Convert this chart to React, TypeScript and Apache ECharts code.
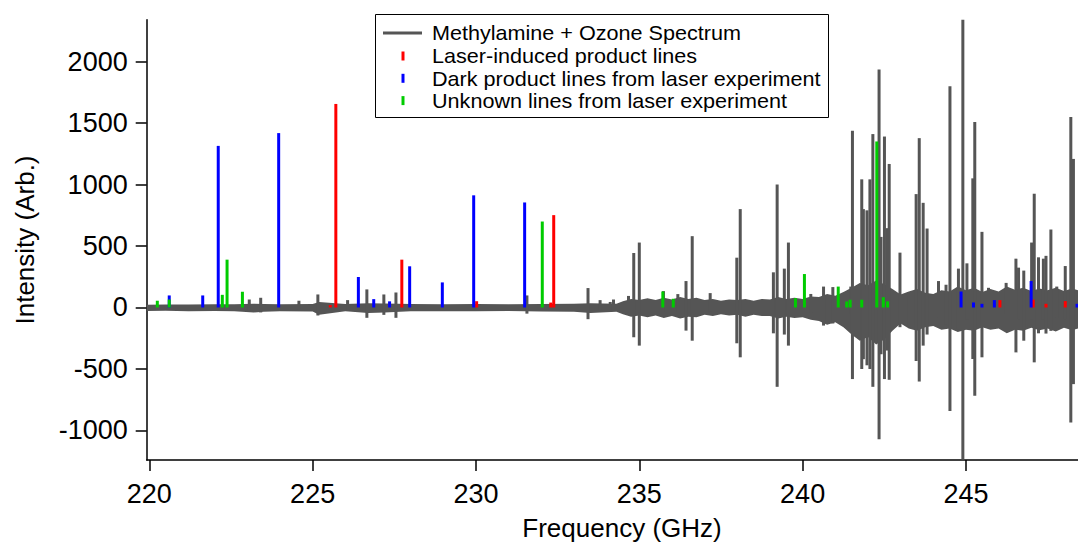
import React, { useEffect, useRef } from "react";
import * as echarts from "echarts";

const xTicks = [220, 225, 230, 235, 240, 245];
const yTicks = [-1000, -500, 0, 500, 1000, 1500, 2000];

// Gray spectrum: strong lines (frequency, positive lobe, negative lobe)
const peakFreq = [223.06, 223.41, 224.58, 225.16, 226.07, 226.66, 227.18, 227.55, 231.56, 233.43, 233.8, 234.11, 234.21, 234.67, 234.83, 235.0, 235.74, 236.18, 236.43, 236.62, 237.17, 237.985, 238.09, 239.105, 239.22, 239.44, 239.565, 240.25, 240.64, 240.925, 241.475, 241.525, 241.81, 241.86, 241.97, 242.06, 242.15, 242.34, 242.4, 242.505, 242.58, 242.65, 242.98, 243.27, 243.475, 243.57, 243.69, 243.81, 244.16, 244.39, 244.51, 244.77, 244.905, 245.03, 245.21, 245.27, 245.49, 245.69, 246.23, 246.53, 246.61, 246.77, 247.01, 247.09, 247.22, 247.37, 247.45, 247.6, 247.78, 248.04, 248.21, 248.29];
const peakMax = [65, 79, 55, 106, 60, 147, 106, 122, 98, 158, 60, 45, 65, 94, 443, 528, 133, 109, 215, 580, 117, 405, 800, 286, 1000, 316, 528, 110, 170, 166, 170, 1437, 1042, 800, 790, 1042, 1410, 1935, 574, 1390, 645, 1167, 446, 95, 922, 1377, 851, 642, 215, 185, 1798, 316, 2340, 359, 1050, 1508, 615, 160, 200, 397, 324, 300, 528, 925, 408, 397, 420, 634, 170, 337, 1548, 1208];
const peakMin = [-30, -40, -20, -65, -25, -84, -60, -84, -50, -95, -20, -20, -25, -40, -242, -310, -40, -40, -188, -270, -30, -291, -405, -210, -645, -220, -310, -40, -147, -130, -60, -582, -500, -420, -470, -500, -645, -1072, -380, -582, -350, -588, -160, -160, -435, -602, -310, -220, -80, -140, -841, -180, -1235, -100, -419, -718, -405, -80, -60, -365, -100, -270, -100, -446, -210, -100, -212, -190, -80, -100, -936, -623];

// Gray spectrum: noise envelope
const noiseFreq = [219.92, 220.5, 221.2, 222.0, 222.6, 223.2, 223.5, 224.0, 225.0, 225.2, 226.0, 226.7, 227.2, 228.0, 229.0, 230.0, 231.0, 232.0, 233.0, 233.5, 234.3,
  234.5, 234.75, 235.0, 235.25, 235.5, 235.75, 236.0, 236.25, 236.5, 236.75, 237.0, 237.25, 237.5, 237.75, 238.0, 238.25, 238.5, 238.75, 239.0, 239.25, 239.5, 239.75,
  240.0, 240.25, 240.5, 240.75, 241.0, 241.25, 241.5, 241.75, 242.0, 242.25, 242.5, 242.75, 243.0, 243.25, 243.5, 243.75, 244.0, 244.25, 244.5, 244.75,
  245.0, 245.25, 245.5, 245.75, 246.0, 246.25, 246.5, 246.75, 247.0, 247.25, 247.5, 247.75, 248.0, 248.25, 248.43];
const noiseHigh = [22, 25, 24, 27, 26, 30, 28, 26, 28, 45, 28, 35, 32, 28, 26, 28, 26, 28, 30, 35, 30,
  50, 70, 60, 75, 60, 80, 65, 85, 70, 80, 60, 70, 55, 65, 60, 70, 55, 70, 65, 85, 70, 80,
  70, 90, 85, 110, 95, 125, 160, 200, 180, 220, 190, 150, 105, 130, 150, 120, 110, 140, 130, 170,
  140, 160, 125, 150, 130, 170, 145, 160, 135, 155, 140, 160, 135, 155, 140];
const noiseLow = [-28, -26, -30, -28, -30, -40, -35, -30, -32, -60, -30, -45, -40, -30, -30, -30, -28, -32, -35, -45, -35,
  -55, -75, -65, -80, -65, -85, -70, -90, -75, -80, -60, -70, -55, -65, -60, -75, -60, -70, -70, -90, -75, -85,
  -80, -100, -110, -140, -120, -160, -220, -270, -240, -300, -260, -190, -130, -170, -190, -160, -150, -180, -170, -200,
  -180, -190, -160, -180, -170, -210, -180, -190, -165, -185, -170, -195, -165, -185, -170];

// Stick lines from laser experiment
const laserFreq = [225.54, 225.71, 227.73, 230.02, 232.29, 232.38, 246.04, 247.06, 247.45, 248.04];
const laserInt = [20, 1655, 389, 51, 40, 751, 60, 64, 30, 52];
const darkFreq = [220.61, 221.635, 222.11, 223.96, 226.4, 226.87, 227.355, 227.97, 228.97, 229.93, 231.49, 244.85, 245.23, 245.49, 245.87, 246.995, 248.4];
const darkInt = [98, 98, 1314, 1418, 248, 68, 50, 335, 204, 912, 854, 130, 41, 30, 60, 215, 30];
const unknownFreq = [220.245, 220.61, 222.235, 222.38, 222.85, 232.03, 235.72, 236.04, 239.78, 240.055, 241.09, 241.35, 241.455, 241.81, 242.27, 242.47, 242.6];
const unknownInt = [55, 65, 103, 389, 128, 699, 130, 71, 76, 272, 170, 49, 63, 63, 1350, 84, 50];

const legendNames = [
  "Methylamine + Ozone Spectrum",
  "Laser-induced product lines",
  "Dark product lines from laser experiment",
  "Unknown lines from laser experiment",
];

const FONT = "Liberation Sans, Arial, sans-serif";
const GRAY = "#555555";

function stickSeries(name: string, freqs: number[], ints: number[], color: string) {
  return {
    type: "custom",
    name,
    encode: { x: 0, y: 1 },
    data: freqs.map((f, i) => [f, ints[i]]),
    renderItem: (_p: any, api: any) => {
      const top = api.coord([api.value(0), api.value(1)]);
      const bot = api.coord([api.value(0), 0]);
      return {
        type: "rect",
        shape: { x: top[0] - 1.5, y: top[1], width: 3, height: bot[1] - top[1] },
        style: { fill: color },
      };
    },
  };
}

export default function App() {
  const ref = useRef<HTMLDivElement>(null);
  useEffect(() => {
    document.body.style.margin = "0";
    const chart = echarts.init(ref.current!, null, { renderer: "svg" });
    const legendRows = [32.7, 56, 78.3, 100.6];
    const option: any = {
      animation: false,
      backgroundColor: "#fff",
      grid: { left: 146.7, right: 0, top: 19.7, bottom: 82 },
      xAxis: {
        type: "value",
        min: 219.92,
        max: 248.43,
        splitLine: { show: false },
        axisLine: { show: true, onZero: false, lineStyle: { color: "#000", width: 1.5 } },
        axisTick: { show: true, length: 11, lineStyle: { color: "#000", width: 1.5 }, customValues: xTicks },
        axisLabel: {
          customValues: xTicks,
          formatter: (v: number) => String(v),
          color: "#000",
          fontSize: 27,
          fontFamily: FONT,
          margin: 20,
        },
      },
      yAxis: {
        type: "value",
        min: -1240,
        max: 2340,
        splitLine: { show: false },
        axisLine: { show: true, onZero: false, lineStyle: { color: "#000", width: 1.5 } },
        axisTick: { show: true, length: 11, lineStyle: { color: "#000", width: 1.5 }, customValues: yTicks },
        axisLabel: {
          customValues: yTicks,
          formatter: (v: number) => String(v),
          color: "#000",
          fontSize: 27,
          fontFamily: FONT,
          margin: 19,
        },
      },
      series: [
        {
          type: "custom",
          name: "noise",
          encode: { x: 0, y: 1 },
          data: [[noiseFreq[0], 0]],
          renderItem: (_p: any, api: any) => {
            const up = noiseFreq.map((f, i) => api.coord([f, noiseHigh[i]]));
            const lo = noiseFreq.map((f, i) => api.coord([f, noiseLow[i]])).reverse();
            return { type: "polygon", shape: { points: up.concat(lo) }, style: { fill: GRAY } };
          },
        },
        {
          type: "custom",
          name: legendNames[0],
          encode: { x: 0, y: [1, 2] },
          data: peakFreq.map((f, i) => [f, peakMax[i], peakMin[i]]),
          renderItem: (_p: any, api: any) => {
            const a = api.coord([api.value(0), api.value(1)]);
            const b = api.coord([api.value(0), api.value(2)]);
            return {
              type: "line",
              shape: { x1: a[0], y1: a[1], x2: b[0], y2: b[1] },
              style: { stroke: GRAY, lineWidth: 3 },
            };
          },
        },
        stickSeries(legendNames[1], laserFreq, laserInt, "#ff0000"),
        stickSeries(legendNames[2], darkFreq, darkInt, "#0000ff"),
        stickSeries(legendNames[3], unknownFreq, unknownInt, "#00cc00"),
      ],
      graphic: {
        elements: [
          {
            type: "rect",
            shape: { x: 375.5, y: 14.5, width: 453, height: 103 },
            style: { fill: "#fff", stroke: "#000", lineWidth: 1 },
            z: 100,
          },
          {
            type: "line",
            shape: { x1: 383, y1: 33, x2: 422, y2: 33 },
            style: { stroke: GRAY, lineWidth: 3 },
            z: 101,
          },
          ...["#ff0000", "#0000ff", "#00cc00"].map((c, i) => ({
            type: "rect",
            shape: { x: 401.5, y: legendRows[i + 1] - 4.5, width: 3, height: 9 },
            style: { fill: c },
            z: 101,
          })),
          ...legendNames.map((t, i) => ({
            type: "text",
            x: 432,
            y: legendRows[i],
            scaleX: 1.08,
            style: { text: t, fontSize: 20, fontFamily: FONT, fill: "#000", align: "left", verticalAlign: "middle" },
            z: 101,
          })),
          {
            type: "text",
            x: 622,
            y: 528,
            style: { text: "Frequency (GHz)", fontSize: 26, fontFamily: FONT, fill: "#000", align: "center", verticalAlign: "middle" },
          },
          {
            type: "text",
            x: 25,
            y: 240,
            rotation: Math.PI / 2,
            style: { text: "Intensity (Arb.)", fontSize: 26, fontFamily: FONT, fill: "#000", align: "center", verticalAlign: "middle" },
          },
        ],
      },
    };
    chart.setOption(option);
    return () => chart.dispose();
  }, []);
  return <div ref={ref} style={{ width: 1078, height: 542 }} />;
}
